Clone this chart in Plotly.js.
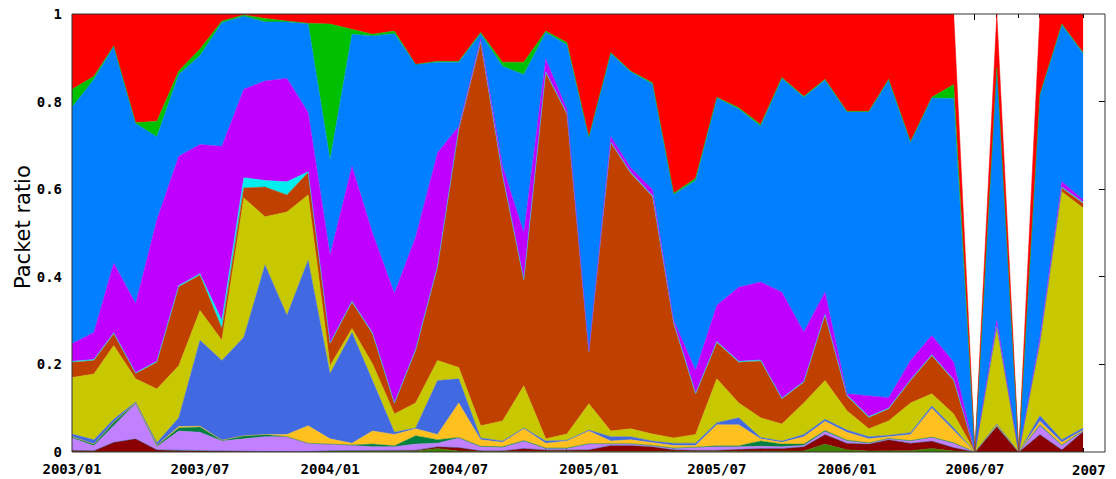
<!DOCTYPE html>
<html>
<head>
<meta charset="utf-8">
<script src="https://cdn.plot.ly/plotly-3.0.1.min.js"></script>
<style>
  html, body { margin: 0; padding: 0; background: #fff; }
  #plot { width: 1116px; height: 479px; }
</style>
</head>
<body>
<div id="plot"></div>
<script>
// monthly samples, 2003/01 .. 2006/12
const months = [
  '2003-01','2003-02','2003-03','2003-04','2003-05','2003-06','2003-07','2003-08','2003-09','2003-10','2003-11','2003-12',
  '2004-01','2004-02','2004-03','2004-04','2004-05','2004-06','2004-07','2004-08','2004-09','2004-10','2004-11','2004-12',
  '2005-01','2005-02','2005-03','2005-04','2005-05','2005-06','2005-07','2005-08','2005-09','2005-10','2005-11','2005-12',
  '2006-01','2006-02','2006-03','2006-04','2006-05','2006-06','2006-07','2006-08','2006-09','2006-10','2006-11','2006-12'
];

const tickVals = ['2003-01','2003-07','2004-01','2004-07','2005-01','2005-07','2006-01','2006-07','2007-01'];
// the last label is drawn separately, pulled inside the figure like the original
const tickText = ['2003/01','2003/07','2004/01','2004/07','2005/01','2005/07','2006/01','2006/07',''];
const lastTick = '2007';

// packet ratio per series, listed bottom of the stack first
const oliveGreen = [
  0,0,0,0,0,0,0,0,0,0,0,0,
  .002,.002,.002,.002,.002,.008,.002,.001,.001,.001,.001,.001,
  .001,.001,.001,.001,.001,.001,.001,.001,.001,.001,.002,.018,
  .005,.002,.002,.003,.008,.002,0,0,0,.001,0,0
];
const darkRed = [
  .004,.003,.022,.030,.005,.002,.002,.002,.001,.001,.001,.001,
  .001,.001,.001,.001,.002,.004,.008,.002,.002,.007,.003,.003,
  .004,.014,.014,.011,.004,.003,.003,.005,.007,.007,.010,.022,
  .015,.016,.026,.017,.017,.008,0,.058,0,.039,.005,.046
];
const slateBlue = [
  0,0,0,0,0,.002,.002,.001,0,0,0,0,
  0,0,0,0,0,0,0,0,0,0,.001,.001,
  0,0,0,0,0,0,0,0,0,0,0,0,
  0,0,0,0,0,0,0,0,0,0,0,0
];
const lavender = [
  .028,.011,.038,.080,.007,.044,.041,.022,.029,.034,.034,.019,
  .015,.012,.009,.009,.014,.008,.022,.009,.007,.017,.003,.003,
  .013,.003,.003,.002,.003,.006,.008,.006,.005,.004,.003,.007,
  .005,.002,.002,.005,.008,.010,0,.002,0,.020,.010,.002
];
const seaGreen = [
  .003,.004,.008,.002,.003,.007,.012,.002,.007,.005,0,0,
  0,.001,.006,.002,.019,.008,.001,.001,.002,.001,.001,.001,
  .001,.001,.001,.001,.001,.001,.002,.002,.012,.006,.003,.002,
  .002,.001,.001,.001,.001,.001,0,0,0,.002,.001,.001
];
const goldenrod = [
  0,0,0,0,0,.003,.002,0,0,0,.005,.040,
  .012,.004,.030,.026,.016,.012,.079,.015,.010,.027,.011,.016,
  .029,.006,.009,.007,.006,.004,.048,.048,.005,.004,.017,.021,
  .018,.009,.004,.014,.066,.029,0,.002,0,.008,.006,.001
];
const royalBlue = [
  .006,.010,.007,.002,.006,.020,.196,.182,.225,.387,.272,.378,
  .149,.253,.115,.005,.002,.123,.055,.004,.003,.002,.005,.002,
  .002,.010,.007,.003,.005,.005,.005,.016,.003,.003,.005,.005,
  .005,.005,.003,.004,.005,.005,0,.002,0,.013,.006,.005
];
const olive = [
  .129,.150,.168,.053,.123,.119,.068,.046,.318,.110,.236,.149,
  .018,.009,.038,.042,.057,.046,.026,.028,.046,.096,.005,.014,
  .060,.013,.018,.016,.012,.020,.100,.034,.045,.039,.072,.088,
  .044,.018,.033,.068,.028,.032,0,.218,0,.162,.566,.502
];
const sienna = [
  .035,.031,.027,.012,.061,.180,.081,.027,.023,.068,.039,.051,
  .050,.060,.069,.023,.120,.213,.543,.875,.559,.241,.836,.730,
  .118,.658,.584,.542,.261,.092,.083,.093,.130,.057,.047,.149,
  .034,.026,.027,.051,.087,.076,0,.003,0,.005,.009,.011
];
const cyan = [
  .002,.002,.002,.002,.002,.003,.003,.018,.023,.015,.030,.002,
  .002,.002,.002,.002,.002,.002,.002,.002,.002,.002,.002,.002,
  .002,.002,.002,.002,.002,.002,.002,.002,.002,.002,.002,.002,
  .002,.002,.002,.002,.002,.002,0,.002,0,.002,.002,.002
];
const magenta = [
  .040,.062,.159,.158,.323,.295,.295,.398,.202,.227,.236,.135,
  .201,.308,.228,.250,.257,.259,.005,.006,.020,.106,.029,.009,
  .002,.012,.010,.014,.005,.052,.083,.169,.178,.242,.113,.051,
  .003,.047,.024,.044,.044,.040,0,.013,0,.010,.012,.006
];
const blue = [
  .540,.578,.494,.411,.190,.187,.203,.282,.167,.135,.129,.203,
  .217,.302,.450,.593,.394,.207,.147,.012,.228,.362,.061,.148,
  .486,.190,.219,.241,.288,.434,.473,.407,.356,.488,.536,.484,
  .643,.648,.725,.498,.542,.602,0,.578,0,.553,.358,.334
];
const green = [
  .041,.007,.002,.002,.035,.008,.015,.004,.003,.008,.002,.001,
  .310,.012,.004,.006,0,.002,.002,.003,.010,.028,.003,.005,
  .002,.002,.002,.003,.003,.005,.002,.003,.004,.002,.002,.002,
  .002,.002,.002,.002,.002,.032,0,0,0,.002,.002,.002
];
const red = [
  .172,.142,.073,.248,.245,.130,.080,.016,.002,.010,.016,.021,
  .023,.034,.046,.039,.115,.108,.108,.042,.110,.110,.039,.065,
  .280,.088,.130,.157,.409,.375,.190,.214,.252,.145,.188,.149,
  .222,.222,.149,.291,.190,.161,0,.122,0,.183,.023,.088
];

const layers = [
  [oliveGreen, '#408000'],
  [darkRed, '#8b0000'],
  [slateBlue, '#306080'],
  [lavender, '#c080ff'],
  [seaGreen, '#008040'],
  [goldenrod, '#ffc020'],
  [royalBlue, '#4169e1'],
  [olive, '#c8c800'],
  [sienna, '#c04000'],
  [cyan, '#00eeee'],
  [magenta, '#c000ff'],
  [blue, '#0080ff'],
  [green, '#00c000'],
  [red, '#ff0000']
];

const data = layers.map(([vals, col]) => ({
  x: months,
  y: vals,
  type: 'scatter',
  mode: 'lines',
  stackgroup: 'one',
  line: { color: col, width: 0.5 },
  fillcolor: col,
  hoverinfo: 'skip'
}));

const tickFont = { family: 'DejaVu Sans Mono', size: 14, color: '#000', weight: 'bold' };

const layout = {
  width: 1116,
  height: 479,
  margin: { l: 72, r: 11, t: 14, b: 27 },
  paper_bgcolor: '#fff',
  plot_bgcolor: '#fff',
  showlegend: false,
  xaxis: {
    type: 'date',
    range: ['2003-01-01', '2007-01-01'],
    tickvals: tickVals,
    ticktext: tickText,
    ticks: 'inside',
    ticklen: 6,
    tickcolor: '#000',
    mirror: 'allticks',
    showline: false,
    showgrid: false,
    zeroline: false,
    layer: 'below traces',
    tickfont: tickFont,
    ticklabelstandoff: 7,
    minor: { dtick: 'M1', ticks: 'inside', ticklen: 4, tickcolor: '#000', showgrid: false }
  },
  yaxis: {
    range: [0, 1],
    tickvals: [0, 0.2, 0.4, 0.6, 0.8, 1],
    ticktext: ['0', '0.2', '0.4', '0.6', '0.8', '1'],
    ticks: 'inside',
    ticklen: 6,
    tickcolor: '#000',
    mirror: 'allticks',
    showline: false,
    showgrid: false,
    zeroline: false,
    layer: 'below traces',
    tickfont: tickFont,
    ticklabelstandoff: 9
  },
  annotations: [{
    text: 'Packet ratio',
    xref: 'paper', yref: 'paper',
    x: 0, y: 0.5,
    xanchor: 'center', yanchor: 'middle',
    xshift: -49, yshift: 6,
    textangle: -90,
    showarrow: false,
    font: { family: 'DejaVu Sans', size: 21, color: '#000' }
  }, {
    text: lastTick,
    xref: 'x', yref: 'paper',
    x: tickVals[tickVals.length - 1], y: 0,
    xanchor: 'right', yanchor: 'top',
    xshift: 3, yshift: -8,
    showarrow: false,
    font: tickFont
  }],
  shapes: [{
    type: 'rect', xref: 'paper', yref: 'paper',
    x0: 0, x1: 1, y0: 0, y1: 1,
    line: { color: '#333', width: 1 },
    layer: 'above'
  }]
};

Plotly.newPlot('plot', data, layout, { displayModeBar: false, staticPlot: true });
</script>
</body>
</html>
